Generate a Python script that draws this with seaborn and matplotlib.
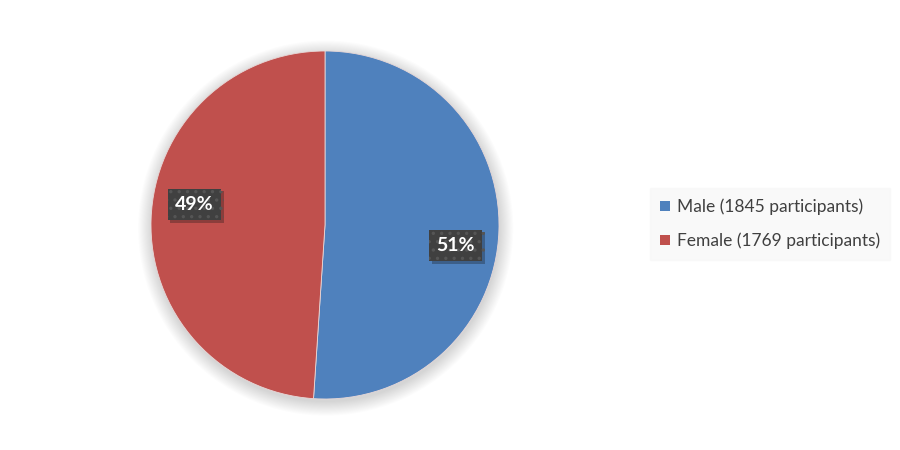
import numpy as np
import matplotlib
matplotlib.use("Agg")
import matplotlib.pyplot as plt
import matplotlib.patheffects as pe
from matplotlib.patches import Circle
import seaborn as sns

categories = ["Male", "Female"]
participants = [1845, 1769]
colors = ["#4F81BD", "#C0504D"]

sns.set_theme(style="white")
plt.rcParams['font.family'] = ['Lato', 'DejaVu Sans']
plt.rcParams['hatch.linewidth'] = 1.2

fig = plt.figure(figsize=(9, 4.5), dpi=100)
fig.patch.set_facecolor("white")
ax = fig.add_axes([(325 - 174) / 900, (450 - 225 - 174) / 450, 348 / 900, 348 / 450])

# soft shadow behind the pie
for i in range(14):
    ax.add_patch(Circle((0.004, -0.018), 1.0 + i * 0.006, facecolor="black",
                        edgecolor="none", alpha=0.012, zorder=0, clip_on=False))

wedges, texts, autotexts = ax.pie(
    participants, colors=colors, startangle=90, counterclock=False,
    autopct=lambda p: f"{p:.0f}%", pctdistance=0.76,
    wedgeprops=dict(linewidth=0.6, edgecolor="#E8D8D8"),
    textprops=dict(color="white", fontsize=14, fontweight="bold"),
    radius=1.0,
)
for w in wedges:
    w.set_zorder(2)

rot = np.deg2rad(-7)
for t in autotexts:
    x, y = t.get_position()
    t.set_position((x * np.cos(rot) - y * np.sin(rot), x * np.sin(rot) + y * np.cos(rot)))
    t.set_zorder(5)
    t.set_bbox(dict(boxstyle="square,pad=0.38", facecolor="#404040", edgecolor="#555555",
                    hatch="..", linewidth=0,
                    path_effects=[pe.SimplePatchShadow(offset=(2, -2), alpha=0.3), pe.Normal()]))
ax.set_xlim(-1.0, 1.0)
ax.set_ylim(-1.0, 1.0)
ax.set_aspect("equal")
ax.axis("off")

labels = [f"{c} ({n} participants)" for c, n in zip(categories, participants)]
leg = fig.legend(wedges, labels, loc="center left", bbox_to_anchor=(655 / 900, 1 - 224 / 450),
                 frameon=True, fontsize=12.5, handlelength=0.55, handleheight=0.55,
                 handletextpad=0.4, labelspacing=1.0, borderpad=0.3, borderaxespad=0,
                 labelcolor="#404040")
leg.get_frame().set_facecolor("#F8F8F8")
leg.get_frame().set_edgecolor("#F8F8F8")
leg.get_frame().set_boxstyle("square")
for h in leg.legend_handles:
    h.set_edgecolor("none")

fig.savefig("out.png", dpi=100, facecolor="white")
